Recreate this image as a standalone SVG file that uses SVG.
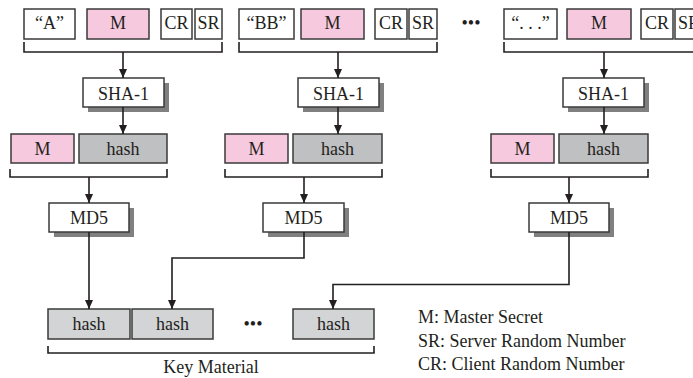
<svg xmlns="http://www.w3.org/2000/svg" width="693" height="378" viewBox="0 0 693 378">
<style>
text{font-family:"Liberation Serif","Times New Roman",serif;font-size:18px;fill:#231f20;text-anchor:middle}
.w{fill:#fff;stroke:#3a3a3a;stroke-width:1.5}
.p{fill:#f7c9de;stroke:#3a3a3a;stroke-width:1.5}
.g{fill:#bfc0c2;stroke:#3a3a3a;stroke-width:1.5}
.lg{fill:#d3d4d5;stroke:#3a3a3a;stroke-width:1.5}
.sh{fill:#808080}
.br{fill:none;stroke:#231f20;stroke-width:1.6}
.c{fill:none;stroke:#231f20;stroke-width:1.6;marker-end:url(#ah)}
.lt{text-anchor:start}
</style>
<defs>
<marker id="ah" markerWidth="10" markerHeight="10" refX="9" refY="5" orient="auto" markerUnits="userSpaceOnUse">
<path d="M0,1 L9,5 L0,9 Z" fill="#231f20"/>
</marker>
</defs>
<rect width="693" height="378" fill="#fff"/>

<g id="col1-input">
<rect class="w" x="24" y="9" width="51" height="30"/><text x="49.5" y="29">“A”</text>
<rect class="p" x="87" y="9" width="62" height="30"/><text x="118" y="29">M</text>
<rect class="w" x="161" y="9" width="31" height="30"/><text x="176.5" y="29">CR</text>
<rect class="w" x="195" y="9" width="27" height="30"/><text x="208.5" y="29">SR</text>
<path class="br" d="M24,42 V52 H222 V42"/>
</g>
<g id="col2-input">
<rect class="w" x="239" y="9" width="55" height="30"/><text x="266.5" y="29">“BB”</text>
<rect class="p" x="301" y="9" width="63" height="30"/><text x="332.5" y="29">M</text>
<rect class="w" x="375" y="9" width="32" height="30"/><text x="391" y="29">CR</text>
<rect class="w" x="409" y="9" width="28" height="30"/><text x="423" y="29">SR</text>
<path class="br" d="M239,42 V52 H437 V42"/>
</g>
<text x="471" y="29">•••</text>
<g id="col3-input">
<rect class="w" x="504" y="9" width="53" height="30"/><text x="530.5" y="29">“. . .”</text>
<rect class="p" x="567" y="9" width="64" height="30"/><text x="599" y="29">M</text>
<rect class="w" x="641" y="9" width="32" height="30"/><text x="657" y="29">CR</text>
<rect class="w" x="675" y="9" width="28" height="30"/><text x="689" y="29">SR</text>
<path class="br" d="M504,42 V52 H704"/>
</g>

<g id="sha1-1"><rect class="sh" x="88" y="83" width="81" height="29"/><rect class="w" x="83" y="78" width="81" height="29"/><text x="123.5" y="100">SHA-1</text></g>
<g id="sha1-2"><rect class="sh" x="303" y="83" width="81" height="29"/><rect class="w" x="298" y="78" width="81" height="29"/><text x="338.5" y="100">SHA-1</text></g>
<g id="sha1-3"><rect class="sh" x="568" y="83" width="81" height="29"/><rect class="w" x="563" y="78" width="81" height="29"/><text x="603.5" y="100">SHA-1</text></g>

<g id="mh1">
<rect class="p" x="11" y="134" width="63" height="29"/><text x="42.5" y="155">M</text>
<rect class="g" x="79" y="134" width="88" height="29"/><text x="123" y="155">hash</text>
<path class="br" d="M10,169 V177 H167 V169"/>
</g>
<g id="mh2">
<rect class="p" x="225" y="134" width="63" height="29"/><text x="256.5" y="155">M</text>
<rect class="g" x="293" y="134" width="89" height="29"/><text x="337.5" y="155">hash</text>
<path class="br" d="M225,169 V177 H382 V169"/>
</g>
<g id="mh3">
<rect class="p" x="491" y="134" width="63" height="29"/><text x="522.5" y="155">M</text>
<rect class="g" x="559" y="134" width="89" height="29"/><text x="603.5" y="155">hash</text>
<path class="br" d="M491,169 V177 H648 V169"/>
</g>

<g id="md5-1"><rect class="sh" x="54" y="208" width="80" height="29"/><rect class="w" x="49" y="203" width="80" height="29"/><text x="89" y="224">MD5</text></g>
<g id="md5-2"><rect class="sh" x="268" y="208" width="81" height="29"/><rect class="w" x="263" y="203" width="81" height="29"/><text x="303.5" y="224">MD5</text></g>
<g id="md5-3"><rect class="sh" x="534" y="208" width="80" height="29"/><rect class="w" x="529" y="203" width="80" height="29"/><text x="569" y="224">MD5</text></g>

<g id="key-material">
<rect class="lg" x="48" y="309" width="82" height="30"/><text x="89" y="330">hash</text>
<rect class="lg" x="132" y="309" width="81" height="30"/><text x="172.5" y="330">hash</text>
<text x="253" y="330">•••</text>
<rect class="lg" x="293" y="309" width="81" height="30"/><text x="333.5" y="330">hash</text>
<path class="br" d="M48,346 V353 H374 V346"/>
<text x="211" y="373">Key Material</text>
</g>

<g id="connectors">
<path class="c" d="M123,52 V78"/>
<path class="c" d="M338,52 V78"/>
<path class="c" d="M604,52 V78"/>
<path class="c" d="M123,107 V134"/>
<path class="c" d="M338,107 V134"/>
<path class="c" d="M604,107 V134"/>
<path class="c" d="M89,177 V203"/>
<path class="c" d="M304,177 V203"/>
<path class="c" d="M569,177 V203"/>
<path class="c" d="M89,232 V309"/>
<path class="c" d="M304,232 V258 H172 V309"/>
<path class="c" d="M569,232 V284.5 H333 V309"/>
</g>

<g id="legend">
<text class="lt" x="418" y="323">M: Master Secret</text>
<text class="lt" x="418" y="347">SR: Server Random Number</text>
<text class="lt" x="418" y="370">CR: Client Random Number</text>
</g>
</svg>
